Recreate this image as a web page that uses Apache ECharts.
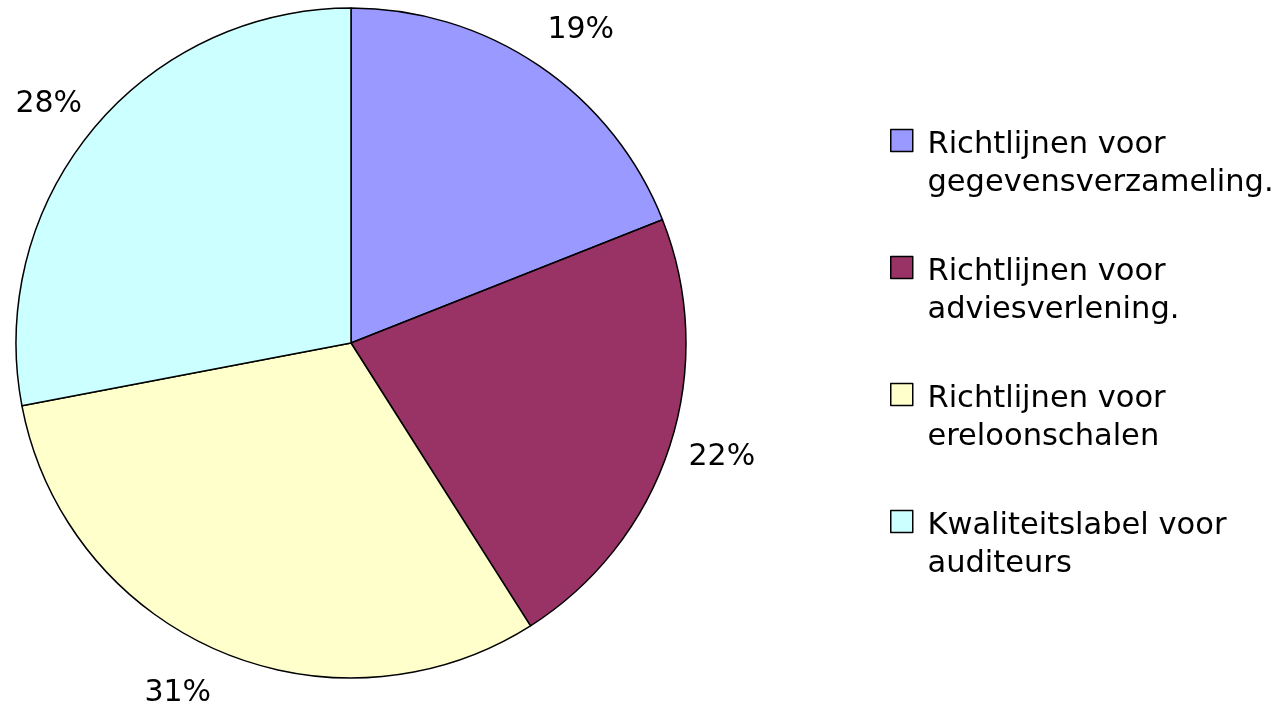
<!DOCTYPE html>
<html>
<head>
<meta charset="utf-8">
<script src="https://cdn.jsdelivr.net/npm/echarts@6/dist/echarts.min.js"></script>
<style>
  html, body { margin: 0; padding: 0; background: #fff; }
  #chart { width: 1279px; height: 703px; }
</style>
</head>
<body>
<div id="chart"></div>
<script>
const categories = [
  'Richtlijnen voor\ngegevensverzameling.',
  'Richtlijnen voor\nadviesverlening.',
  'Richtlijnen voor\nereloonschalen',
  'Kwaliteitslabel voor\nauditeurs',
];
const shares = [19, 22, 31, 28];
const colors = ['#9999FF', '#993366', '#FFFFCC', '#CCFFFF'];

const font = 'DejaVu Sans';
// small nudges so the percent labels sit where Excel put them
const labelNudge = [[10, 11], [-1, -7], [-18, -9], [-1, 10]];

const pieData = categories.map((name, i) => ({
  name,
  value: shares[i],
  itemStyle: { color: colors[i] },
}));

const option = {
  animation: false,
  legend: {
    orient: 'vertical',
    left: 885,
    top: 82,
    itemWidth: 22,
    itemHeight: 22,
    itemGap: 15,
    icon: 'rect',
    selectedMode: false,
    data: categories,
    itemStyle: { borderColor: '#000', borderWidth: 1.5 },
    // empty first line keeps the marker level with the first text line
    formatter: name => '{s| }\n' + name.split('\n').map(l => '{t| ' + l + '}').join('\n'),
    textStyle: {
      fontFamily: font,
      fontSize: 30.5,
      color: '#000',
      rich: {
        s: { fontFamily: font, fontSize: 30.5, lineHeight: 48 },
        t: { fontFamily: font, fontSize: 30.5, lineHeight: 38, color: '#000' },
      },
    },
  },
  series: [
    {
      type: 'pie',
      center: [351, 343],
      radius: 335,
      startAngle: 90,
      clockwise: true,
      silent: true,
      label: { show: false },
      labelLine: { show: false },
      itemStyle: { borderColor: '#000', borderWidth: 1.5 },
      data: pieData,
    },
    {
      // invisible ring that only carries the percent labels
      type: 'pie',
      center: [351, 343],
      radius: [376, 400],
      startAngle: 90,
      clockwise: true,
      silent: true,
      itemStyle: { color: 'rgba(0,0,0,0)', borderWidth: 0 },
      label: {
        show: true,
        position: 'inside',
        fontFamily: font,
        fontSize: 30,
        color: '#000',
        formatter: p => p.value + '%',
      },
      labelLine: { show: false },
      data: pieData.map((d, i) => ({
        name: d.name,
        value: d.value,
        label: { offset: labelNudge[i] },
      })),
    },
  ],
};

echarts.init(document.getElementById('chart')).setOption(option);
</script>
</body>
</html>
